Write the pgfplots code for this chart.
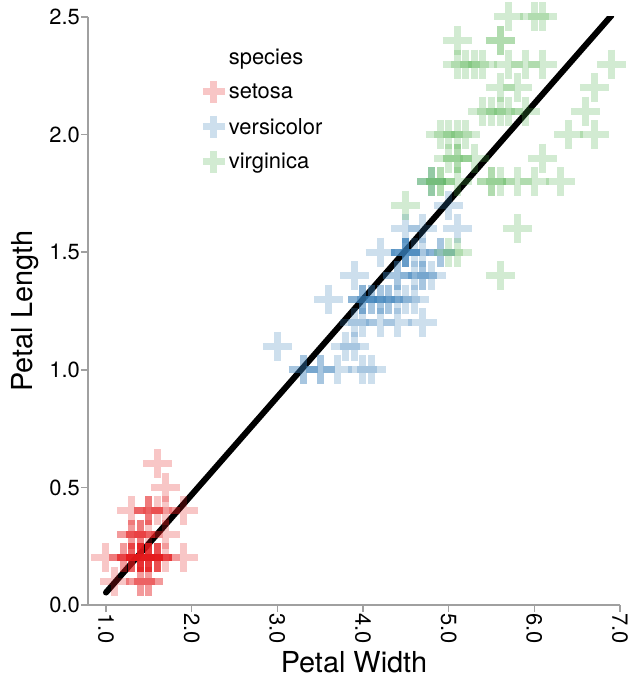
\documentclass[border=0pt]{standalone}
\usepackage{pgfplots}
\pgfplotsset{compat=1.18}
\usepackage{fontspec}
\setmainfont{TeX Gyre Heros}
\definecolor{setosa}{HTML}{E41A1C}
\definecolor{versicolor}{HTML}{377EB8}
\definecolor{virginica}{HTML}{4DAF4A}
\definecolor{axisgray}{HTML}{A0A0A0}
\begin{document}
\begin{tikzpicture}
\begin{axis}[
    scale only axis,
    width=532bp, height=588bp,
    xmin=0.79, xmax=7.0, ymin=0, ymax=2.5,
    axis lines*=left,
    axis line style={draw=axisgray, line width=1.6bp},
    tick style={draw=axisgray, line width=1.6bp},
    major tick length=7bp,
    tick align=outside,
    xtick={1,2,...,7}, ytick={0,0.5,...,2.5},
    /pgf/number format/.cd, fixed, fixed zerofill, precision=1, assume math mode=true, /pgfplots/.cd,
    ticklabel style={font=\fontsize{22}{26}\selectfont},
    xticklabel style={rotate=-90, anchor=west, inner sep=1bp},
    yticklabel style={inner sep=1bp},
    xlabel={Petal Width}, ylabel={Petal Length},
    label style={font=\fontsize{29}{33}\selectfont},
    xlabel style={yshift=-3bp},
    ylabel style={yshift=6bp},
    legend style={draw=none, fill=none, font=\fontsize{22}{26}\selectfont,
        at={(0.21,0.953)}, anchor=north west, row sep=13bp,
        nodes={inner xsep=4bp}},
    legend cell align=left,
    legend image post style={mark size=11bp},
    every axis plot/.append style={only marks, mark=+, mark size=14.5bp},
]
\addlegendimage{empty legend}
\addlegendentry{species}

\addplot[mark options={draw=setosa, line width=7bp, draw opacity=0.25}] coordinates {
(1.4,0.2) (1.4,0.2) (1.3,0.2) (1.5,0.2) (1.4,0.2) (1.7,0.4) (1.4,0.3) (1.5,0.2) (1.4,0.2) (1.5,0.1)
(1.5,0.2) (1.6,0.2) (1.4,0.1) (1.1,0.1) (1.2,0.2) (1.5,0.4) (1.3,0.4) (1.4,0.3) (1.7,0.3) (1.5,0.3)
(1.7,0.2) (1.5,0.4) (1.0,0.2) (1.7,0.5) (1.9,0.2) (1.6,0.2) (1.6,0.4) (1.5,0.2) (1.4,0.2) (1.6,0.2)
(1.6,0.2) (1.5,0.4) (1.5,0.1) (1.4,0.2) (1.5,0.2) (1.2,0.2) (1.3,0.2) (1.4,0.1) (1.3,0.2) (1.5,0.2)
(1.3,0.3) (1.3,0.3) (1.3,0.2) (1.6,0.6) (1.9,0.4) (1.4,0.3) (1.6,0.2) (1.4,0.2) (1.5,0.2) (1.4,0.2)
};
\addlegendentry{setosa}

\addplot[mark options={draw=versicolor, line width=7bp, draw opacity=0.25}] coordinates {
(4.7,1.4) (4.5,1.5) (4.9,1.5) (4.0,1.3) (4.6,1.5) (4.5,1.3) (4.7,1.6) (3.3,1.0) (4.6,1.3) (3.9,1.4)
(3.5,1.0) (4.2,1.5) (4.0,1.0) (4.7,1.4) (3.6,1.3) (4.4,1.4) (4.5,1.5) (4.1,1.0) (4.5,1.5) (3.9,1.1)
(4.8,1.8) (4.0,1.3) (4.9,1.5) (4.7,1.2) (4.3,1.3) (4.4,1.4) (4.8,1.4) (5.0,1.7) (4.5,1.5) (3.5,1.0)
(3.8,1.1) (3.7,1.0) (3.9,1.2) (5.1,1.6) (4.5,1.5) (4.5,1.6) (4.7,1.5) (4.4,1.3) (4.1,1.3) (4.0,1.3)
(4.4,1.2) (4.6,1.4) (4.0,1.2) (3.3,1.0) (4.2,1.3) (4.2,1.2) (4.2,1.3) (4.3,1.3) (3.0,1.1) (4.1,1.3)
};
\addlegendentry{versicolor}

\addplot[mark options={draw=virginica, line width=7bp, draw opacity=0.25}] coordinates {
(6.0,2.5) (5.1,1.9) (5.9,2.1) (5.6,1.8) (5.8,2.2) (6.6,2.1) (4.5,1.7) (6.3,1.8) (5.8,1.8) (6.1,2.5)
(5.1,2.0) (5.3,1.9) (5.5,2.1) (5.0,2.0) (5.1,2.4) (5.3,2.3) (5.5,1.8) (6.7,2.2) (6.9,2.3) (5.0,1.5)
(5.7,2.3) (4.9,2.0) (6.7,2.0) (4.9,1.8) (5.7,2.1) (6.0,1.8) (4.8,1.8) (4.9,1.8) (5.6,2.1) (5.8,1.6)
(6.1,1.9) (6.4,2.0) (5.6,2.2) (5.1,1.5) (5.6,1.4) (6.1,2.3) (5.6,2.4) (5.5,1.8) (4.8,1.8) (5.4,2.1)
(5.6,2.4) (5.1,2.3) (5.1,1.9) (5.9,2.3) (5.7,2.5) (5.2,2.3) (5.0,1.9) (5.2,2.0) (5.4,2.3) (5.1,1.8)
};
\addlegendentry{virginica}

\addplot[forget plot, no marks, sharp plot, draw=black, line width=6bp, line cap=round] coordinates {
(1.0,0.053) (6.9,2.506)
};
\end{axis}
\useasboundingbox ([shift={(-88bp,-73bp)}]current axis.south west) rectangle ([shift={(9bp,17bp)}]current axis.north east);
\end{tikzpicture}
\end{document}
